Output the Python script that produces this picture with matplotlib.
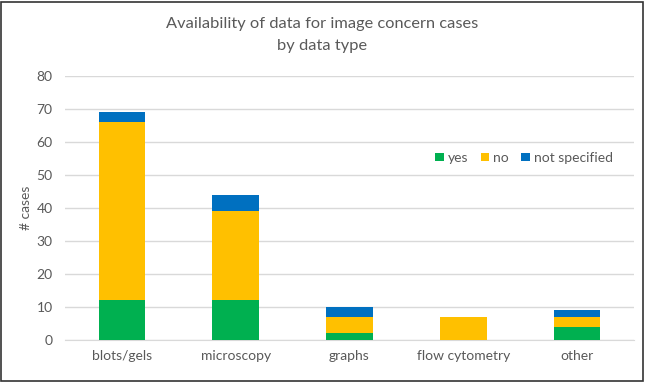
import matplotlib.pyplot as plt
import numpy as np

plt.rcParams['font.family'] = ['Lato', 'DejaVu Sans']

categories = ['blots/gels', 'microscopy', 'graphs', 'flow cytometry', 'other']
yes_counts = [12, 12, 2, 0, 4]
no_counts = [54, 27, 5, 7, 3]
not_specified_counts = [3, 5, 3, 0, 2]

colors = {'yes': '#00B050', 'no': '#FFC000', 'not specified': '#0070C0'}
text_color = '#595959'

fig = plt.figure(figsize=(6.45, 3.84), dpi=100)
axis = fig.add_axes([65/645, 1 - 340/384, (634-65)/645, (340-76)/384])

x = np.arange(len(categories))
yes = np.array(yes_counts)
no = np.array(no_counts)
ns = np.array(not_specified_counts)
width = 0.41
axis.bar(x, yes, width, color=colors['yes'], label='yes', zorder=3)
axis.bar(x, no, width, bottom=yes, color=colors['no'], label='no', zorder=3)
axis.bar(x, ns, width, bottom=yes+no, color=colors['not specified'], label='not specified', zorder=3)

axis.set_xlim(-0.5, 4.5)
axis.set_ylim(0, 80)
axis.set_yticks(range(0, 81, 10))
axis.set_xticks(x)
axis.set_xticklabels(categories)
axis.grid(axis='y', color='#D9D9D9', linewidth=1, zorder=0)
for side in ['top', 'right', 'left']:
	axis.spines[side].set_visible(False)
axis.spines['bottom'].set_color('#D9D9D9')
axis.tick_params(length=0, colors=text_color, labelsize=10)
axis.tick_params(axis='y', pad=9)
axis.tick_params(axis='x', pad=7)
axis.set_ylabel('# cases', color=text_color, fontsize=10, labelpad=3)

axis.legend(loc='upper right', bbox_to_anchor=(0.985, 0.76), ncol=3, frameon=False,
	fontsize=10, labelcolor=text_color, handlelength=0.6, handleheight=0.6,
	handletextpad=0.3, columnspacing=0.9)

fig.text(0.5, 1 - 17/384, 'Availability of data for image concern cases\nby data type',
	ha='center', va='top', fontsize=11.8, color=text_color, linespacing=1.75)

fig.patches.append(plt.Rectangle((0.0015, 0.007), 0.995, 0.988, transform=fig.transFigure,
	fill=False, edgecolor='#333333', linewidth=1.2))

fig.savefig('out.png', dpi=100)
